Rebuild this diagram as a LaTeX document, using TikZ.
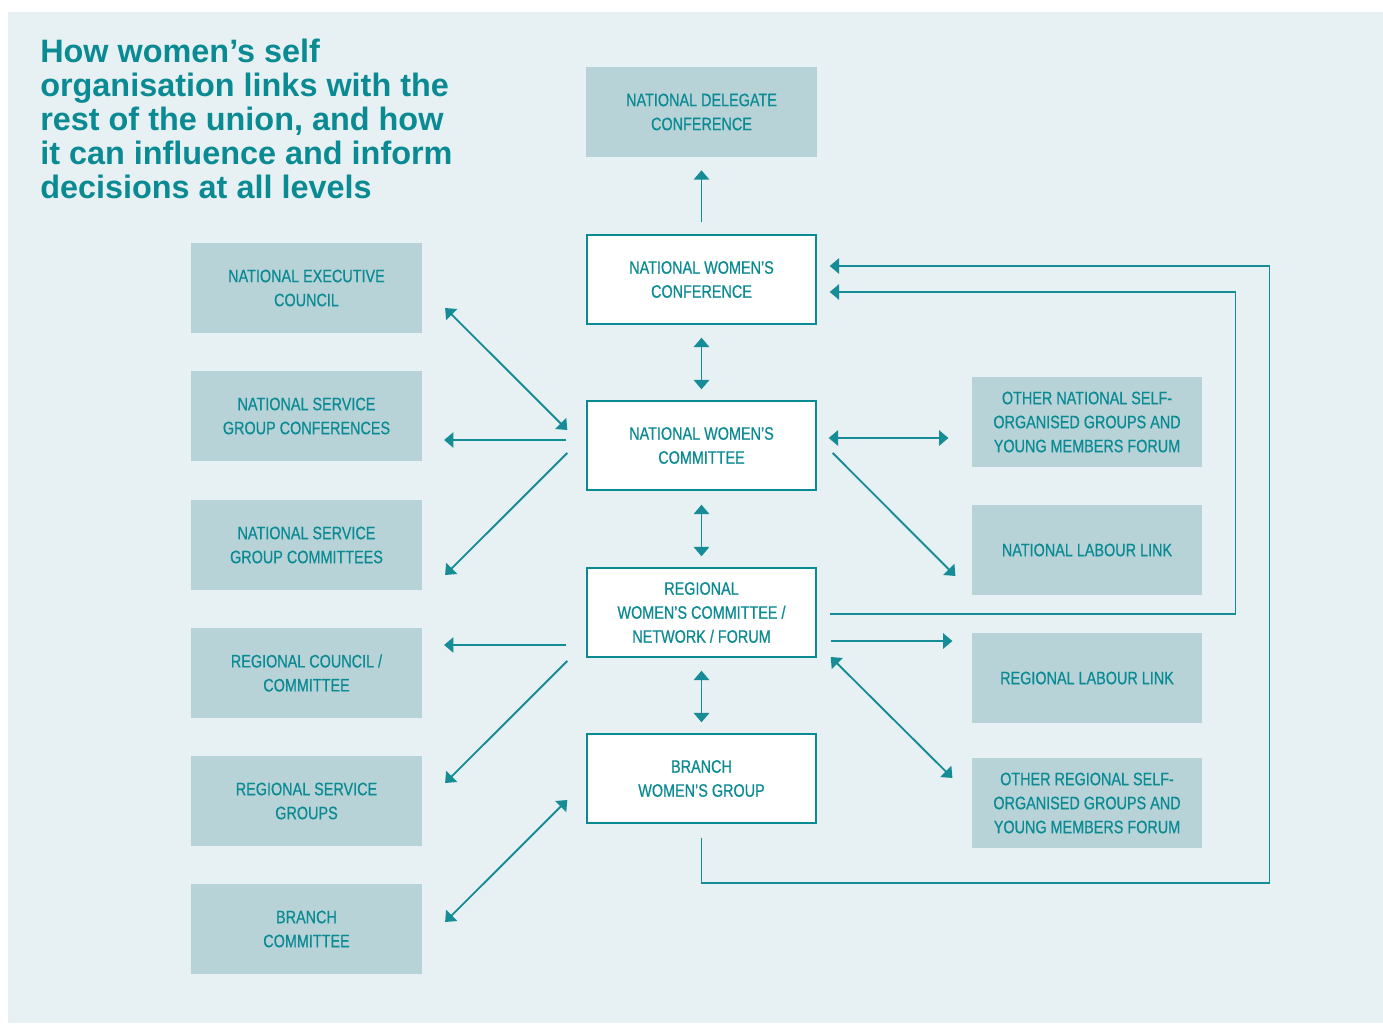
\documentclass[tikz,border=0pt]{standalone}
\usepackage{fontspec}
\setmainfont{Liberation Sans}
\newfontfamily\condfont[FakeStretch=0.8,FakeBold=0.6]{Liberation Sans}
\usetikzlibrary{arrows.meta,calc}
\definecolor{panelbg}{HTML}{E7F0F2}
\definecolor{boxbg}{HTML}{B8D3D8}
\definecolor{teal}{HTML}{0A8A93}
\definecolor{linec}{HTML}{168C96}
\tikzset{
  basebox/.style={minimum width=173pt, minimum height=67.5pt, inner sep=0pt, align=center,
    text=teal, font=\condfont\fontsize{13.5}{18}\selectfont},
  greybox/.style={basebox, fill=boxbg},
  whitebox/.style={basebox, fill=white, draw=teal, line width=1.3pt, minimum width=171.5pt, minimum height=66.5pt},
  conn/.style={draw=linec, line width=1.4pt, arrows={-Triangle[length=7pt,width=11.5pt]}},
  biconn/.style={draw=linec, line width=1.4pt, arrows={Triangle[length=7pt,width=11.5pt]-Triangle[length=7pt,width=11.5pt]}},
  loopconn/.style={draw=linec, line width=1.2pt, arrows={-Triangle[length=7pt,width=11.5pt]}}
}
\begin{document}
\begin{tikzpicture}[x=0.75pt,y=-0.75pt]
\useasboundingbox (0,0) rectangle (1383,1023);
\fill[panelbg] (8,12) rectangle (1383,1023);

\node[anchor=north west, inner sep=0pt, align=left, text=teal,
  font=\fontsize{24.3}{25.5}\selectfont\bfseries] (title) at (40,39)
  {How women’s self\\organisation links with the\\rest of the union, and how\\it can influence and inform\\decisions at all levels};

% centre column
\node[greybox] (ndc) at (701.5,112) {NATIONAL DELEGATE\\CONFERENCE};
\node[whitebox] (nwconf) at (701.5,279.5) {NATIONAL WOMEN’S\\CONFERENCE};
\node[whitebox] (nwcomm) at (701.5,445.5) {NATIONAL WOMEN’S\\COMMITTEE};
\node[whitebox] (reg) at (701.5,612.5) {REGIONAL\\WOMEN’S COMMITTEE /\\NETWORK / FORUM};
\node[whitebox] (branch) at (701.5,778.5) {BRANCH\\WOMEN’S GROUP};

% left column
\node[greybox] (nec) at (306.5,288) {NATIONAL EXECUTIVE\\COUNCIL};
\node[greybox] (nsgconf) at (306.5,416) {NATIONAL SERVICE\\GROUP CONFERENCES};
\node[greybox] (nsgcomm) at (306.5,545) {NATIONAL SERVICE\\GROUP COMMITTEES};
\node[greybox] (regcouncil) at (306.5,673) {REGIONAL COUNCIL /\\COMMITTEE};
\node[greybox] (regserv) at (306.5,801) {REGIONAL SERVICE\\GROUPS};
\node[greybox] (branchcomm) at (306.5,929) {BRANCH\\COMMITTEE};

% right column
\node[greybox] (othernat) at (1087,422) {OTHER NATIONAL SELF-\\ORGANISED GROUPS AND\\YOUNG MEMBERS FORUM};
\node[greybox] (nll) at (1087,550) {NATIONAL LABOUR LINK};
\node[greybox] (rll) at (1087,678) {REGIONAL LABOUR LINK};
\node[greybox] (otherreg) at (1087,803) {OTHER REGIONAL SELF-\\ORGANISED GROUPS AND\\YOUNG MEMBERS FORUM};

% vertical connectors
\draw[conn, shorten <=9pt, shorten >=9.75pt] (nwconf.north) -- (ndc.south);
\draw[biconn, shorten <=9.75pt, shorten >=8.25pt] (nwconf.south) -- (nwcomm.north);
\draw[biconn, shorten <=10.5pt, shorten >=8.25pt] (nwcomm.south) -- (reg.north);
\draw[biconn, shorten <=9.75pt, shorten >=8.25pt] (reg.south) -- (branch.north);

% left connectors
\draw[biconn] ($(nec.east)+(23,20)$) -- ($(nwcomm.west)+(-19,-15.5)$);
\draw[conn] ($(nwcomm.west)+(-20,-5.5)$) -- ($(nsgconf.east)+(22,24)$);
\draw[conn] ($(nwcomm.west)+(-19,7.5)$) -- ($(nsgcomm.east)+(23,30)$);
\draw[conn] ($(reg.west)+(-20,32.5)$) -- ($(regcouncil.east)+(22,-28)$);
\draw[conn] ($(reg.west)+(-19,48.5)$) -- ($(regserv.east)+(23,-18)$);
\draw[biconn] ($(branch.west)+(-19,21.5)$) -- ($(branchcomm.east)+(23,-7)$);

% right connectors
\draw[biconn] ($(nwcomm.east)+(12,-7.5)$) -- ($(othernat.west)+(-23,16)$);
\draw[conn] ($(nwcomm.east)+(16,7.5)$) -- ($(nll.west)+(-16,26)$);
\draw[conn] ($(reg.east)+(14,28.5)$) -- ($(rll.west)+(-19,-37)$);
\draw[biconn] ($(reg.east)+(14,44.5)$) -- ($(otherreg.west)+(-19,-25)$);

% loops back to national women's conference
\draw[loopconn] ($(reg.east)+(13,1.5)$) -| ($(nll.east)+(33,0)$) |- ($(nwconf.east)+(13,12.5)$);
\draw[loopconn] ($(branch.south)+(0,14)$) |- ($(otherreg.south east)+(67,35)$) |- ($(nwconf.east)+(13,-13.5)$);
\end{tikzpicture}
\end{document}
